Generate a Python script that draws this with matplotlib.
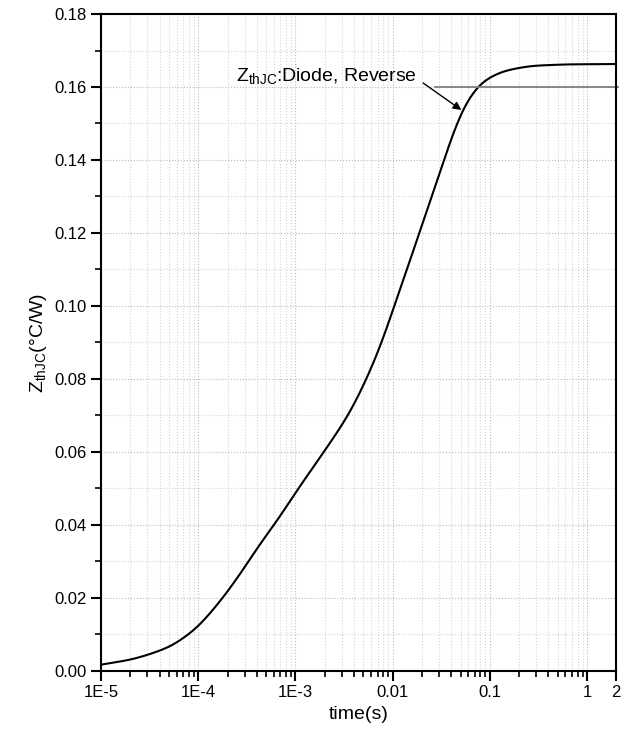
import numpy as np
import matplotlib.pyplot as plt
from matplotlib.ticker import FixedLocator, LogLocator, MultipleLocator, FormatStrFormatter, NullFormatter

plt.rcParams['font.family'] = ['Liberation Sans', 'DejaVu Sans']
plt.rcParams['mathtext.fontset'] = 'custom'
plt.rcParams['mathtext.rm'] = 'Liberation Sans'

# curve
t = [1e-5, 2e-5, 3.06e-5, 5.2e-5, 7.1e-5, 1.01e-4, 1.8e-4, 2.9e-4, 4.1e-4, 6.6e-4,
     1.02e-3, 2.0e-3, 3.54e-3, 5.19e-3, 7.8e-3, 1.06e-2, 1.5e-2, 2.02e-2, 2.75e-2,
     3.85e-2, 5.1e-2, 6.67e-2, 7.8e-2, 0.1, 0.136, 0.26, 0.6, 2]
zth = [0.0017, 0.0030, 0.0044, 0.0066, 0.0090, 0.0121, 0.0200, 0.0277, 0.0340, 0.0414,
       0.0492, 0.0603, 0.0701, 0.0789, 0.0899, 0.1008, 0.1120, 0.1227, 0.1326,
       0.1447, 0.1537, 0.1586, 0.1610, 0.1627, 0.1644, 0.1658, 0.1662, 0.1663]

xticks = [1e-5, 1e-4, 1e-3, 1e-2, 0.1, 1, 2]
xlabels = ['1E-5', '1E-4', '1E-3', '0.01', '0.1', '1', '2']

fig = plt.figure(figsize=(6.32, 7.38), dpi=100)
ax = fig.add_axes([0.16, 0.091, 0.815, 0.89])

# linear interp in log-x, then gaussian smoothing to remove reading jitter
lx = np.log10(t)
n = 1000
xx = np.linspace(lx[0], lx[-1], n)
yy = np.interp(xx, lx, zth)
step = xx[1] - xx[0]
sig = int(0.09 / step)
kx = np.arange(-4 * sig, 4 * sig + 1)
kern = np.exp(-0.5 * (kx / sig) ** 2)
kern /= kern.sum()
pad = 4 * sig
slope_l = (yy[5] - yy[0]) / 5
left = yy[0] - slope_l * np.arange(pad, 0, -1)
right = np.full(pad, yy[-1])
ys = np.convolve(np.concatenate([left, yy, right]), kern, mode='valid')
ax.plot(10 ** xx, ys, color='black', lw=1.5)

ax.plot([0.027, 2.1], [0.16, 0.16], color='#808080', lw=1.3, clip_on=False)
ax.text(0.0179, 0.1627, r'Z$_{\mathrm{thJC}}$:Diode, Reverse', fontsize=14,
        ha='right', va='center')
ax.annotate('', xy=(0.051, 0.1537), xytext=(0.0206, 0.1611),
            arrowprops=dict(arrowstyle='-|>', color='black', lw=1, shrinkA=0, shrinkB=0,
                            mutation_scale=12))

ax.set_xscale('log')
ax.set_xlim(1e-5, 2)
ax.set_ylim(0, 0.18)
ax.xaxis.set_major_locator(FixedLocator(xticks))
ax.set_xticklabels(xlabels)
ax.xaxis.set_minor_locator(LogLocator(base=10, subs=np.arange(2, 10), numticks=20))
ax.xaxis.set_minor_formatter(NullFormatter())
ax.yaxis.set_major_locator(MultipleLocator(0.02))
ax.yaxis.set_minor_locator(MultipleLocator(0.01))
ax.yaxis.set_major_formatter(FormatStrFormatter('%.2f'))

ax.tick_params(which='major', direction='out', length=7, width=1.5, labelsize=12)
ax.tick_params(which='minor', direction='out', length=4, width=1.2)
ax.grid(which='major', linestyle=':', color='#bbbbbb', lw=0.8)
ax.grid(which='minor', linestyle=':', color='#d5d5d5', lw=0.8)
for s in ax.spines.values():
    s.set_linewidth(1.5)

ax.set_xlabel('time(s)', fontsize=14)
ax.set_ylabel(r'Z$_{\mathrm{thJC}}$(°C/W)', fontsize=14)

fig.savefig('out.png', dpi=100)
